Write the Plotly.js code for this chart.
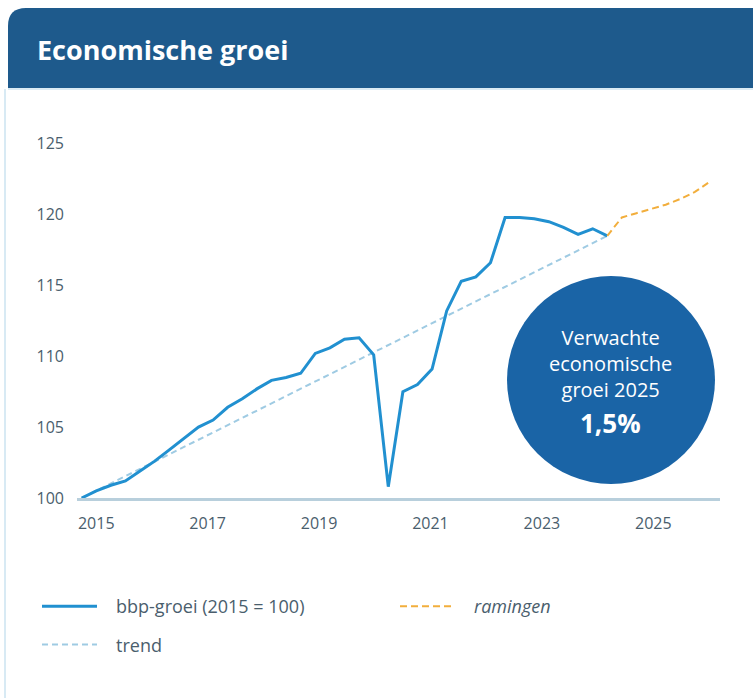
<!DOCTYPE html>
<html>
<head>
<meta charset="utf-8">
<script src="https://cdn.plot.ly/plotly-3.0.1.min.js"></script>
<style>
  html, body { margin: 0; padding: 0; background: #ffffff; }
  #graph { width: 753px; height: 698px; }
</style>
</head>
<body>
<div id="graph"></div>
<script>
// bbp-volume per kwartaal, 2015K1 .. 2024K1 (2015 = 100)
const bbp = [
  100.0, 100.5, 100.9, 101.2, 101.9, 102.6, 103.4, 104.2, 105.0, 105.5,
  106.4, 107.0, 107.7, 108.3, 108.5, 108.8, 110.2, 110.6, 111.2, 111.3,
  110.1, 100.8, 107.5, 108.0, 109.1, 113.2, 115.3, 115.6, 116.6, 119.8,
  119.8, 119.7, 119.5, 119.1, 118.6, 119.0, 118.5
];
// ramingen 2024K1 .. 2025K4
const ramingen = [118.5, 119.8, 120.1, 120.4, 120.7, 121.1, 121.6, 122.3];
// trendlijn begin en eind (2015K1, 2024K1)
const trend = [100.0, 118.5];

const yearLabels = ["2015", "2017", "2019", "2021", "2023", "2025"];
const yTicks = [100, 105, 110, 115, 120, 125];

const W = 753, H = 698;
const M = { l: 77, r: 33, t: 130, b: 200 };
const plotW = W - M.l - M.r;
const plotH = H - M.t - M.b;

// pixel -> paper helpers for the decoration
const X = px => (px - M.l) / plotW;
const Y = py => (H - M.b - py) / plotH;

const bbpX = bbp.map((_, i) => i);
const ramX = ramingen.map((_, i) => bbp.length - 1 + i);
const trendX = [0, bbp.length - 1];

const font = "Open Sans, Noto Sans, sans-serif";
const textColor = "#4a5e6d";
const pad = "\u00a0\u00a0\u00a0"; // extra room between legend sample and text

const data = [
  {
    x: trendX, y: trend, mode: "lines", type: "scatter", name: pad + "trend",
    line: { color: "#9fcbe3", width: 2, dash: "6px,4px" },
    legend: "legend", legendrank: 2, legendgroup: "b", hoverinfo: "skip"
  },
  {
    x: bbpX, y: bbp, mode: "lines", type: "scatter", name: pad + "bbp-groei (2015 = 100)",
    line: { color: "#2190d0", width: 3 },
    legend: "legend", legendrank: 1, legendgroup: "a", hoverinfo: "skip"
  },
  {
    x: ramX, y: ramingen, mode: "lines", type: "scatter", name: pad + "<i>ramingen</i>",
    line: { color: "#f2ae3c", width: 2, dash: "7px,4px" },
    legend: "legend2", hoverinfo: "skip"
  }
];

const barR = 18;
const shapes = [
  {
    type: "path", xref: "paper", yref: "paper", layer: "below",
    path: `M ${X(8)},${Y(88)} L ${X(8)},${Y(8 + barR)} Q ${X(8)},${Y(8)} ${X(8 + barR)},${Y(8)} ` +
          `L ${X(760)},${Y(8)} L ${X(760)},${Y(88)} Z`,
    fillcolor: "#1e5a8c", line: { width: 0 }
  },
  {
    type: "line", xref: "paper", yref: "paper", layer: "below",
    x0: X(5), x1: X(5), y0: Y(89), y1: Y(698),
    line: { color: "#d8eaf4", width: 2 }
  },
  {
    type: "line", xref: "paper", yref: "paper", layer: "below",
    x0: X(8), x1: X(760), y0: Y(89), y1: Y(89),
    line: { color: "#cfe4f0", width: 1.5 }
  },
  {
    type: "circle", xref: "paper", yref: "paper", layer: "above",
    x0: X(507), x1: X(715), y0: Y(484), y1: Y(276),
    fillcolor: "#1a64a6", line: { width: 0 }
  }
];

const annotations = [
  {
    xref: "paper", yref: "paper", x: X(35), y: Y(50), xanchor: "left", yanchor: "middle",
    text: "<b>Economische groei</b>", showarrow: false,
    font: { family: font, size: 27, color: "#ffffff" }
  },
  {
    xref: "paper", yref: "paper", x: X(610), y: Y(363), xanchor: "center", yanchor: "middle",
    text: "Verwachte<br>economische<br>groei 2025", showarrow: false,
    font: { family: font, size: 20, color: "#ffffff" }
  },
  {
    xref: "paper", yref: "paper", x: X(610), y: Y(423), xanchor: "center", yanchor: "middle",
    text: "<b>1,5%</b>", showarrow: false, font: { family: font, size: 26, color: "#ffffff" }
  }
];

const layout = {
  width: W, height: H,
  margin: M,
  paper_bgcolor: "#ffffff",
  plot_bgcolor: "#ffffff",
  font: { family: font, color: textColor },
  showlegend: true,
  xaxis: {
    range: [-0.32, 43.72],
    tickvals: yearLabels.map((_, k) => 1 + k * 7.63),
    ticktext: yearLabels,
    ticks: "",
    showgrid: false, zeroline: false,
    showline: true, linecolor: "#b8cfdc", linewidth: 2.5,
    tickfont: { family: font, size: 16, color: textColor },
    ticklabelstandoff: 9,
    fixedrange: true
  },
  yaxis: {
    range: [100, 100 + plotH / 14.17],
    tickvals: yTicks,
    ticks: "",
    showgrid: false, zeroline: false, showline: false,
    tickfont: { family: font, size: 16, color: textColor },
    ticklabelstandoff: 12,
    fixedrange: true
  },
  legend: {
    x: X(37), y: Y(588), xanchor: "left", yanchor: "top",
    orientation: "v", traceorder: "grouped", tracegroupgap: 12,
    itemwidth: 55,
    font: { family: font, size: 18, color: textColor },
    bgcolor: "rgba(0,0,0,0)"
  },
  legend2: {
    x: X(395), y: Y(588), xanchor: "left", yanchor: "top",
    orientation: "v", itemwidth: 55,
    font: { family: font, size: 18, color: textColor },
    bgcolor: "rgba(0,0,0,0)"
  },
  shapes: shapes,
  annotations: annotations
};

Plotly.newPlot("graph", data, layout, { displayModeBar: false, staticPlot: true });
</script>
</body>
</html>
